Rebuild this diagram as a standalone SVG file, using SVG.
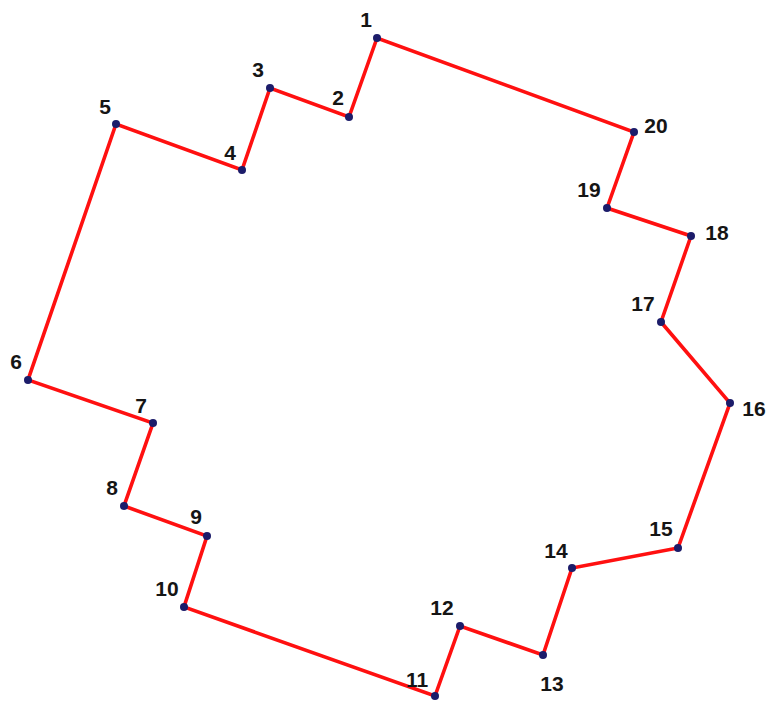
<svg xmlns="http://www.w3.org/2000/svg" width="770" height="702" viewBox="0 0 770 702">
<style>
.edge{fill:none;stroke:#ff1010;stroke-width:3.6;stroke-linejoin:miter;stroke-linecap:round}
.pt{fill:#1c1c6a}
.lbl{font-family:"Liberation Sans",Arial,sans-serif;font-weight:bold;font-size:21px;fill:#151515;text-anchor:middle}
</style>
<rect width="770" height="702" fill="#ffffff"/>
<g id="connectors">
<polygon class="edge" points="377,38 349,117 270,88 242,170 116,124 28,380 153,423 124,506 207,536 184,607 435,696 460,626 543,655 572,568 678,548 730,403 661,322 691,236 607,208 634,132"/>
</g>
<g id="n1"><circle class="pt" cx="377" cy="38" r="4"/><text class="lbl" x="366" y="27">1</text></g>
<g id="n2"><circle class="pt" cx="349" cy="117" r="4"/><text class="lbl" x="338" y="105">2</text></g>
<g id="n3"><circle class="pt" cx="270" cy="88" r="4"/><text class="lbl" x="258" y="77">3</text></g>
<g id="n4"><circle class="pt" cx="242" cy="170" r="4"/><text class="lbl" x="230" y="160">4</text></g>
<g id="n5"><circle class="pt" cx="116" cy="124" r="4"/><text class="lbl" x="105" y="114">5</text></g>
<g id="n6"><circle class="pt" cx="28" cy="380" r="4"/><text class="lbl" x="16" y="369">6</text></g>
<g id="n7"><circle class="pt" cx="153" cy="423" r="4"/><text class="lbl" x="141" y="413">7</text></g>
<g id="n8"><circle class="pt" cx="124" cy="506" r="4"/><text class="lbl" x="112" y="495">8</text></g>
<g id="n9"><circle class="pt" cx="207" cy="536" r="4"/><text class="lbl" x="196" y="524">9</text></g>
<g id="n10"><circle class="pt" cx="184" cy="607" r="4"/><text class="lbl" x="167" y="596">10</text></g>
<g id="n11"><circle class="pt" cx="435" cy="696" r="4"/><text class="lbl" x="417" y="687">11</text></g>
<g id="n12"><circle class="pt" cx="460" cy="626" r="4"/><text class="lbl" x="442" y="615">12</text></g>
<g id="n13"><circle class="pt" cx="543" cy="655" r="4"/><text class="lbl" x="552" y="691">13</text></g>
<g id="n14"><circle class="pt" cx="572" cy="568" r="4"/><text class="lbl" x="556" y="558">14</text></g>
<g id="n15"><circle class="pt" cx="678" cy="548" r="4"/><text class="lbl" x="661" y="536">15</text></g>
<g id="n16"><circle class="pt" cx="730" cy="403" r="4"/><text class="lbl" x="754" y="416">16</text></g>
<g id="n17"><circle class="pt" cx="661" cy="322" r="4"/><text class="lbl" x="643" y="311">17</text></g>
<g id="n18"><circle class="pt" cx="691" cy="236" r="4"/><text class="lbl" x="717" y="240">18</text></g>
<g id="n19"><circle class="pt" cx="607" cy="208" r="4"/><text class="lbl" x="589" y="197">19</text></g>
<g id="n20"><circle class="pt" cx="634" cy="132" r="4"/><text class="lbl" x="656" y="133">20</text></g>
</svg>
